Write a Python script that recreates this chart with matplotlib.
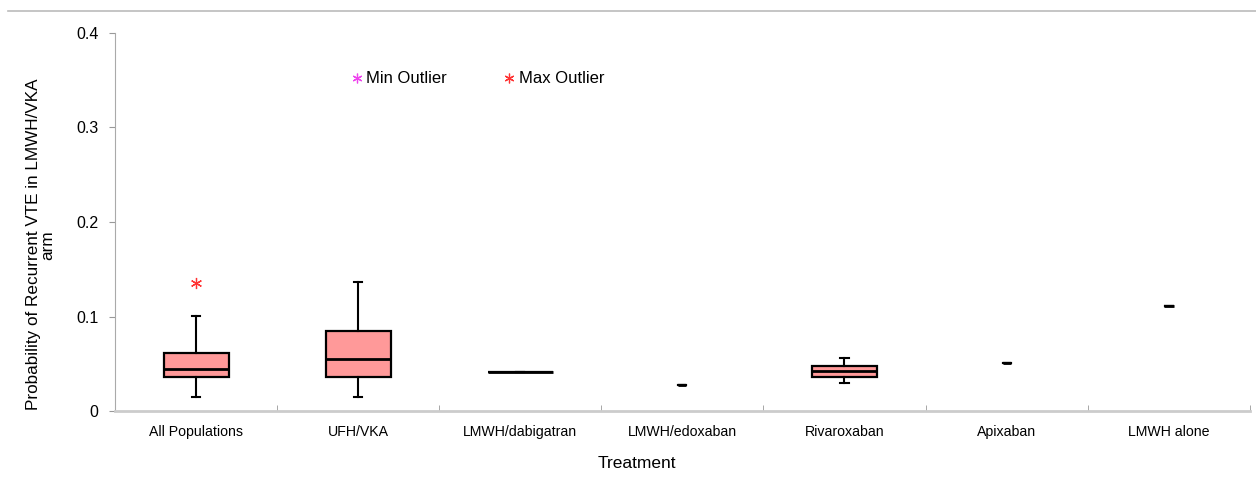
import matplotlib
matplotlib.use('Agg')
import matplotlib.pyplot as plt
from matplotlib.lines import Line2D

plt.rcParams['font.family'] = ['Liberation Sans', 'DejaVu Sans']

treatments = ['All Populations', 'UFH/VKA', 'LMWH/dabigatran', 'LMWH/edoxaban',
              'Rivaroxaban', 'Apixaban', 'LMWH alone']
whisker_low = [0.015, 0.015, 0.0416, 0.0275, 0.030, 0.051, 0.111]
q1 = [0.036, 0.036, 0.0416, 0.0275, 0.036, 0.051, 0.111]
medians = [0.044, 0.055, 0.0416, 0.0275, 0.042, 0.051, 0.111]
q3 = [0.061, 0.085, 0.0416, 0.0275, 0.0476, 0.051, 0.111]
whisker_high = [0.101, 0.136, 0.0416, 0.0275, 0.056, 0.051, 0.111]
max_outliers = [[0.135], [], [], [], [], [], []]

stats = []
for i, name in enumerate(treatments):
    stats.append({'label': name, 'whislo': whisker_low[i], 'q1': q1[i], 'med': medians[i],
                  'q3': q3[i], 'whishi': whisker_high[i], 'fliers': max_outliers[i]})

fig = plt.figure(figsize=(12.56, 4.83), dpi=100)
ax = fig.add_axes([0.0916, 0.149, 0.9034, 0.7827])

widths = [0.4, 0.4, 0.4, 0.05, 0.4, 0.05, 0.06]
ax.bxp(stats, positions=range(len(treatments)), widths=widths, patch_artist=True,
       capwidths=[0.05] * len(treatments),
       boxprops=dict(facecolor='#ff9999', edgecolor='black', linewidth=1.6),
       medianprops=dict(color='black', linewidth=2),
       whiskerprops=dict(color='black', linewidth=1.5),
       capprops=dict(color='black', linewidth=1.5),
       flierprops=dict(marker=(6, 2, 0), markeredgecolor='#ff3333', markerfacecolor='#ff3333',
                       markersize=8, markeredgewidth=0.9, linestyle='none'))

ax.set_xlim(-0.5, len(treatments) - 0.5)
ax.set_ylim(0, 0.4)
ax.set_yticks([0, 0.1, 0.2, 0.3, 0.4])
ax.set_yticklabels(['0', '0.1', '0.2', '0.3', '0.4'], fontsize=11.5)
ax.set_xticks(range(len(treatments)))
ax.set_xticklabels(treatments, fontsize=10.2)
ax.tick_params(axis='x', length=0, pad=10)
ax.set_xticks([i - 0.5 for i in range(len(treatments) + 1)], minor=True)
ax.tick_params(axis='x', which='minor', length=4, color='#999999', direction='in')
ax.tick_params(axis='y', length=4, color='#999999', pad=8)

for s in ['top', 'right']:
    ax.spines[s].set_visible(False)
ax.spines['left'].set_color('#aaaaaa')
ax.spines['bottom'].set_color('#cccccc')
ax.spines['bottom'].set_linewidth(2)

ax.set_xlabel('Treatment', fontsize=12.5)
ax.xaxis.set_label_coords(0.4599, -0.12)
ax.set_ylabel('Probability of Recurrent VTE in LMWH/VKA\narm', fontsize=12.3,
              linespacing=0.95)
ax.yaxis.set_label_coords(-0.053, 0.44)

# legend-like labels
ax.plot([0.99], [0.352], linestyle='none', marker=(6, 2, 0), color='#ee44ee',
        markersize=7, markeredgewidth=0.9)
ax.text(1.05, 0.352, 'Min Outlier', va='center', ha='left', fontsize=12)
ax.plot([1.93], [0.352], linestyle='none', marker=(6, 2, 0), color='#ff3333',
        markersize=7, markeredgewidth=0.9)
ax.text(1.99, 0.352, 'Max Outlier', va='center', ha='left', fontsize=12)

fig.add_artist(Line2D([0.006, 1.0], [0.977, 0.977], color='#bbbbbb', linewidth=1.2))

fig.savefig('out.png', dpi=100)
